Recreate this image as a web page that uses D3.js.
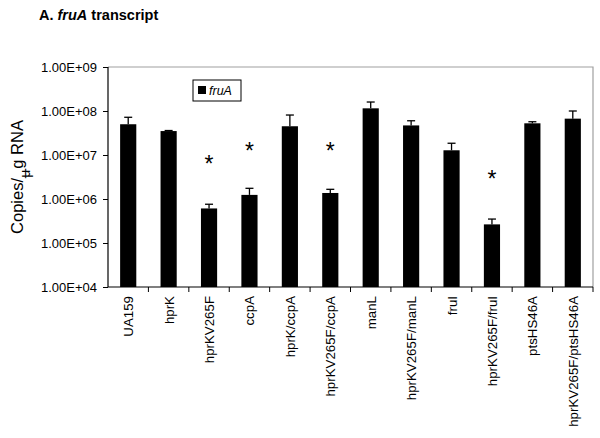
<!DOCTYPE html>
<html><head><meta charset="utf-8">
<script src="https://cdn.jsdelivr.net/npm/d3@7"></script>
<style>body{margin:0;background:#fff}svg{display:block;font-family:"Liberation Sans",Arial,sans-serif}</style>
</head><body>
<svg id="c" width="600" height="438"></svg>
<script>
const categories = ["UA159","hprK","hprKV265F","ccpA","hprK/ccpA","hprKV265F/ccpA","manL","hprKV265F/manL","fruI","hprKV265F/fruI","ptsHS46A","hprKV265F/ptsHS46A"];
const values = [5.0e7,3.5e7,6.1e5,1.24e6,4.5e7,1.37e6,1.15e8,4.7e7,1.28e7,2.65e5,5.25e7,6.7e7];
const errorTops = [7.2e7,3.6e7,7.6e5,1.75e6,8.1e7,1.66e6,1.6e8,6.0e7,1.85e7,3.5e5,5.7e7,1.0e8];
const significant = [false,false,true,true,false,true,false,false,false,true,false,false];
const starValues = [null,null,5.5e6,1.1e7,null,1.1e7,null,null,null,2.5e6,null,null];
const tickValues = [1e4,1e5,1e6,1e7,1e8,1e9];
const tickLabels = ["1.00E+04","1.00E+05","1.00E+06","1.00E+07","1.00E+08","1.00E+09"];

const svg = d3.select("#c");
const L = 108, R = 593, T = 67, B = 287;
const x = d3.scaleBand().domain(categories).range([L, R]).paddingInner(0.6).paddingOuter(0.3);
const xb = d3.scaleBand().domain(categories).range([L, R]);
const y = d3.scaleLog().domain([1e4, 1e9]).range([B, T]);

// plot border (grey)
svg.append("path").attr("d", `M${L},${T}H${R}V${B}`).attr("fill","none").attr("stroke","#a0a0a0").attr("stroke-width",1.2);

// bars
svg.selectAll("rect.bar").data(categories).join("rect").attr("class","bar")
  .attr("x", d => x(d)).attr("width", x.bandwidth())
  .attr("y", (d,i) => y(values[i])).attr("height", (d,i) => B - y(values[i]))
  .attr("fill","#000");

// error bars
const eg = svg.append("g").attr("stroke","#000").attr("stroke-width",1.3);
categories.forEach((c,i) => {
  const cx = x(c) + x.bandwidth()/2;
  eg.append("line").attr("x1",cx).attr("x2",cx).attr("y1",y(values[i])).attr("y2",y(errorTops[i]));
  eg.append("line").attr("x1",cx-4).attr("x2",cx+4).attr("y1",y(errorTops[i])).attr("y2",y(errorTops[i]));
});

// stars
categories.forEach((c,i) => {
  if (!significant[i]) return;
  svg.append("text").attr("x", x(c) + x.bandwidth()/2).attr("y", y(starValues[i]) + 6)
    .attr("text-anchor","middle").attr("font-size",23).text("*");
});

// y axis
const yAxis = d3.axisLeft(y).tickValues(tickValues).tickFormat((d,i) => tickLabels[i]).tickSize(5).tickSizeOuter(0);
const ga = svg.append("g").attr("transform",`translate(${L},0)`).call(yAxis);
ga.select(".domain").attr("stroke","#000").attr("stroke-width",1.2).attr("d",`M0,${T}V${B}`);
ga.selectAll("text").attr("font-size",13).attr("font-family","Liberation Sans, Arial, sans-serif").attr("fill","#000").attr("dx",-3);
ga.selectAll("line").attr("stroke","#000");

// x axis
const gx = svg.append("g");
gx.append("line").attr("x1",L).attr("x2",R).attr("y1",B).attr("y2",B).attr("stroke","#000").attr("stroke-width",1.2);
categories.forEach(c => {
  gx.append("line").attr("x1",xb(c)+xb.bandwidth()).attr("x2",xb(c)+xb.bandwidth()).attr("y1",B).attr("y2",B+5).attr("stroke","#000");
});
categories.forEach(c => {
  const cx = xb(c) + xb.bandwidth()/2;
  gx.append("text").attr("transform",`translate(${cx+5},${B+9}) rotate(-90)`)
    .attr("text-anchor","end").attr("font-size",13.3).text(c);
});

// title
const t = svg.append("text").attr("x",39).attr("y",20).attr("font-size",14.5).attr("font-weight","bold");
t.append("tspan").text("A. ");
t.append("tspan").attr("font-style","italic").text("fruA");
t.append("tspan").text("  transcript");

// y label
const yl = svg.append("text").attr("transform","translate(23,177) rotate(-90)").attr("text-anchor","middle").attr("font-size",16.5);
yl.append("tspan").text("Copies/");
yl.append("tspan").text("_");
yl.append("tspan").attr("dy",7).attr("dx",-9).attr("font-size",14).text("μ");
yl.append("tspan").attr("dy",-7).attr("dx",1).text("g RNA");

// legend
svg.append("rect").attr("x",193).attr("y",80).attr("width",48).attr("height",21).attr("fill","#fff").attr("stroke","#000").attr("stroke-width",1);
svg.append("rect").attr("x",198).attr("y",86).attr("width",8).attr("height",8).attr("fill","#000");
svg.append("text").attr("x",209).attr("y",95).attr("font-size",12.5).attr("font-style","italic").text("fruA");
</script>
</body></html>
